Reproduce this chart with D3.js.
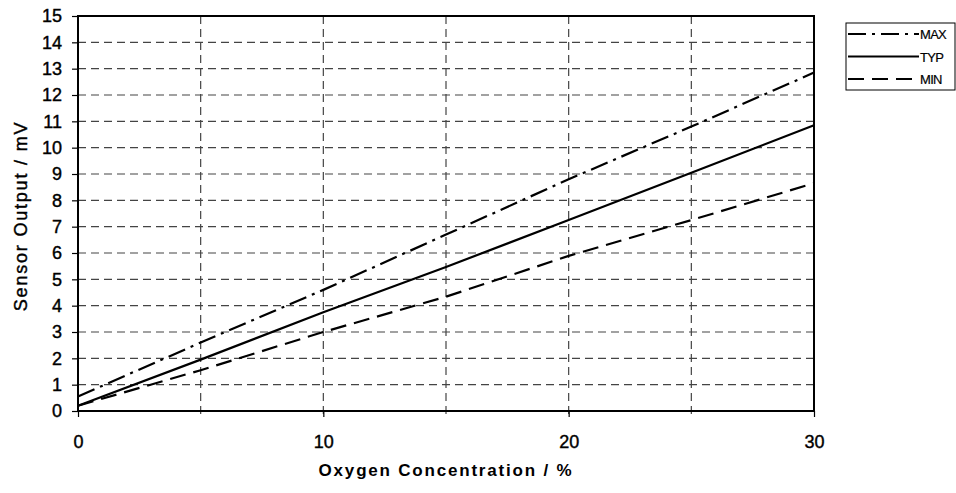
<!DOCTYPE html>
<html>
<head>
<meta charset="utf-8">
<script src="https://cdn.jsdelivr.net/npm/d3@7"></script>
<style>
  body { margin: 0; background: #fff; }
  svg { display: block; }
</style>
</head>
<body>
<svg id="svg"></svg>
<script>
// oxygen concentration (%) where the curves are read
const oxygen = [0, 5, 10, 15, 20, 25, 30];
const maxOut = [0.55, 2.6, 4.6, 6.7, 8.8, 10.8, 12.85];
const typOut = [0.2, 1.95, 3.75, 5.47, 7.25, 9.05, 10.85];
const minOut = [0.2, 1.55, 3.0, 4.34, 5.89, 7.25, 8.65];

const yTicks = d3.range(0, 16);
const xTicks = [0, 10, 20, 30];
const xGrid = [5, 10, 15, 20, 25];

const seriesNames = ["MAX", "TYP", "MIN"];
const seriesValues = [maxOut, typOut, minOut];
const dashes = ["18,6,3,6", null, "16,8"];

let layout = {"width": 956, "height": 493,
              "marginTop": 16, "marginRight": 142,
              "marginBottom": 82, "marginLeft": 78};

let svg = d3.select("#svg")
            .attr("width", layout.width)
            .attr("height", layout.height)
            .attr("font-family", "Liberation Sans, Arial, sans-serif");

let xScale = d3.scaleLinear()
               .domain([0, 30])
               .range([layout.marginLeft, layout.width - layout.marginRight]);

let yScale = d3.scaleLinear()
               .domain([0, 15])
               .range([layout.height - layout.marginBottom, layout.marginTop]);

// grid
svg.append("g")
   .selectAll("line")
   .data(yTicks.filter(d => d > 0 && d < 15))
   .join("line")
   .attr("x1", xScale(0)).attr("x2", xScale(30))
   .attr("y1", d => yScale(d)).attr("y2", d => yScale(d))
   .attr("stroke", "#444").attr("stroke-width", 1.2)
   .attr("stroke-dasharray", "8,5");

svg.append("g")
   .selectAll("line")
   .data(xGrid)
   .join("line")
   .attr("x1", d => xScale(d)).attr("x2", d => xScale(d))
   .attr("y1", yScale(15)).attr("y2", yScale(0) + 6)
   .attr("stroke", "#444").attr("stroke-width", 1.2)
   .attr("stroke-dasharray", "8,5");

// axes
let yAxis = svg.append("g")
   .attr("transform", `translate(${xScale(0)},0)`)
   .call(d3.axisLeft(yScale).tickValues(yTicks).tickSize(6).tickPadding(10));
yAxis.select(".domain").remove();
yAxis.selectAll("line").attr("stroke", "#000").attr("stroke-width", 1.2);
yAxis.selectAll("text").attr("font-size", 18)
     .attr("font-family", "Liberation Sans, Arial, sans-serif")
     .attr("fill", "#000").attr("stroke", "#000").attr("stroke-width", 0.4);

let xAxis = svg.append("g")
   .attr("transform", `translate(0,${yScale(0)})`)
   .call(d3.axisBottom(xScale).tickValues(xTicks).tickSize(6).tickPadding(18));
xAxis.select(".domain").remove();
xAxis.selectAll("line").attr("stroke", "#000").attr("stroke-width", 1.2);
xAxis.selectAll("text").attr("font-size", 18)
     .attr("font-family", "Liberation Sans, Arial, sans-serif")
     .attr("fill", "#000").attr("stroke", "#000").attr("stroke-width", 0.4);

// frame
svg.append("rect")
   .attr("x", xScale(0)).attr("y", yScale(15))
   .attr("width", xScale(30) - xScale(0))
   .attr("height", yScale(0) - yScale(15))
   .attr("fill", "none").attr("stroke", "#000").attr("stroke-width", 2);

// curves
let line = d3.line()
             .x((d, i) => xScale(oxygen[i]))
             .y(d => yScale(d));

svg.append("g")
   .selectAll("path")
   .data(seriesValues)
   .join("path")
   .attr("d", d => line(d))
   .attr("fill", "none")
   .attr("stroke", "#000")
   .attr("stroke-width", 2.2)
   .attr("stroke-dasharray", (d, i) => dashes[i]);

// titles
svg.append("text")
   .attr("x", 446).attr("y", 476)
   .attr("text-anchor", "middle")
   .attr("font-size", 17).attr("font-weight", "bold")
   .attr("letter-spacing", 1.8)
   .text("Oxygen Concentration / %");

svg.append("text")
   .attr("transform", "translate(27,216) rotate(-90)")
   .attr("text-anchor", "middle")
   .attr("font-size", 18)
   .attr("letter-spacing", 1.8)
   .attr("stroke", "#000").attr("stroke-width", 0.4)
   .text("Sensor Output / mV");

// legend
let legend = svg.append("g");
legend.append("rect")
      .attr("x", 846).attr("y", 23)
      .attr("width", 109).attr("height", 67)
      .attr("fill", "#fff").attr("stroke", "#000").attr("stroke-width", 1);

legend.selectAll(".legendLine")
      .data(seriesNames)
      .join("line")
      .attr("class", "legendLine")
      .attr("x1", 848).attr("x2", 919)
      .attr("y1", (d, i) => 34 + 22.5 * i).attr("y2", (d, i) => 34 + 22.5 * i)
      .attr("stroke", "#000").attr("stroke-width", 2)
      .attr("stroke-dasharray", (d, i) => dashes[i]);

legend.selectAll(".legendText")
      .data(seriesNames)
      .join("text")
      .attr("class", "legendText")
      .attr("x", 920)
      .attr("y", (d, i) => 39 + 22.5 * i)
      .attr("font-size", 13)
      .attr("letter-spacing", -0.7)
      .attr("stroke", "#000").attr("stroke-width", 0.2)
      .text(d => d);
</script>
</body>
</html>
